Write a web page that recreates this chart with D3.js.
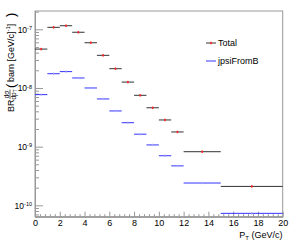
<!DOCTYPE html>
<html>
<head>
<meta charset="utf-8">
<script src="https://cdn.jsdelivr.net/npm/d3@7"></script>
<style>
  body { margin: 0; background: #fff; }
  svg { display: block; font-family: "Liberation Sans", Arial, Helvetica, sans-serif; }
</style>
</head>
<body>
<svg id="chart"></svg>
<script>
// bins in pT (GeV/c)
var binLo = [0, 1, 2, 3, 4, 5, 6, 7, 8, 9, 10, 11, 12, 15];
var binHi = [1, 2, 3, 4, 5, 6, 7, 8, 9, 10, 11, 12, 15, 20];
// BR dsigma/dpT (barn [GeV/c]^-1)
var totalVals = [4.6e-8, 1.08e-7, 1.15e-7, 8.9e-8, 5.9e-8, 3.6e-8, 2.13e-8, 1.26e-8, 7.5e-9, 4.6e-9, 2.85e-9, 1.78e-9, 8.2e-10, 2.1e-10];
var fromBVals = [7.7e-9, 1.75e-8, 1.9e-8, 1.48e-8, 1.0e-8, 6.5e-9, 4.06e-9, 2.56e-9, 1.63e-9, 1.07e-9, 7.0e-10, 4.7e-10, 2.4e-10, 7.3e-11];
var xTicks = [0, 2, 4, 6, 8, 10, 12, 14, 16, 18, 20];
var yTicks = [1e-10, 1e-9, 1e-8, 1e-7];
var seriesNames = ["Total", "jpsiFromB"];

var svgWidth = 293, svgHeight = 245;
var frame = { left: 35, right: 282.7, top: 11, bottom: 216.7 };

var svg = d3.select("#chart")
  .attr("width", svgWidth)
  .attr("height", svgHeight);

var xScale = d3.scaleLinear().domain([0, 20]).range([frame.left, frame.right]);
var yScale = d3.scaleLog().domain([6.4e-11, 2.05e-7]).range([frame.bottom, frame.top]);

// frame box
svg.append("rect")
  .attr("x", frame.left)
  .attr("y", frame.top)
  .attr("width", frame.right - frame.left)
  .attr("height", frame.bottom - frame.top)
  .attr("fill", "none")
  .attr("stroke", "#999")
  .attr("stroke-width", 1);

// minor ticks
var yMinor = [];
for (var e = -11; e <= -7; e++) {
  for (var k = 2; k <= 9; k++) {
    var v = k * Math.pow(10, e);
    if (v > 6.4e-11 && v < 2.05e-7) yMinor.push(v);
  }
}
var xMinor = d3.range(0, 20.01, 0.4).filter(function (d) { return Math.abs(d / 2 - Math.round(d / 2)) > 0.01; });

svg.append("g")
  .attr("class", "axis")
  .attr("transform", "translate(" + frame.left + ",0)")
  .call(d3.axisLeft(yScale).tickValues(yMinor).tickSizeInner(-4).tickSizeOuter(0).tickFormat(""));

svg.append("g")
  .attr("class", "axis")
  .attr("transform", "translate(0," + frame.bottom + ")")
  .call(d3.axisBottom(xScale).tickValues(xMinor).tickSizeInner(-2.5).tickSizeOuter(0).tickFormat(""));

// major y axis
var yAxis = svg.append("g")
  .attr("class", "axis")
  .attr("transform", "translate(" + frame.left + ",0)")
  .call(d3.axisLeft(yScale).tickValues(yTicks).tickSizeInner(-8).tickSizeOuter(0).tickPadding(3));

yAxis.selectAll("text").each(function (d) {
  var t = d3.select(this);
  var ex = Math.round(Math.log10(d));
  t.text(null);
  t.append("tspan").text("10");
  t.append("tspan").attr("dy", "-0.45em").style("font-size", "5.5px").text(ex);
});

// major x axis
svg.append("g")
  .attr("class", "axis")
  .attr("transform", "translate(0," + frame.bottom + ")")
  .call(d3.axisBottom(xScale).tickValues(xTicks).tickSizeInner(-5).tickSizeOuter(0).tickPadding(3).tickFormat(d3.format("d")));

svg.selectAll(".axis path").attr("stroke", "#999");
svg.selectAll(".axis line").attr("stroke", "#999");
svg.selectAll(".axis text").attr("fill", "#000").style("font-size", "9px");
yAxis.selectAll("text").style("font-size", "8.5px");

// data
function drawSeries(vals, lineColor, markColor, markW, markH) {
  var g = svg.append("g");
  g.selectAll("line.bin")
    .data(vals)
    .enter()
    .append("line")
    .attr("class", "bin")
    .attr("x1", function (d, i) { return xScale(binLo[i]); })
    .attr("x2", function (d, i) { return xScale(binHi[i]); })
    .attr("y1", function (d) { return yScale(d); })
    .attr("y2", function (d) { return yScale(d); })
    .attr("stroke", lineColor)
    .attr("stroke-width", 1);
  g.selectAll("rect.mark")
    .data(vals)
    .enter()
    .append("rect")
    .attr("class", "mark")
    .attr("x", function (d, i) { return xScale((binLo[i] + binHi[i]) / 2) - markW / 2; })
    .attr("y", function (d) { return yScale(d) - markH / 2; })
    .attr("width", markW)
    .attr("height", markH)
    .attr("fill", markColor);
}
drawSeries(totalVals, "#333", "#f22", 1.6, 2.4);
drawSeries(fromBVals, "#3333ff", "#aaaaff", 1, 2.4);

// legend
var legend = svg.append("g");
var legY = [43, 61];
var legLine = ["#333", "#3333ff"];
var legMark = ["#f22", "#aaaaff"];
seriesNames.forEach(function (name, i) {
  legend.append("line")
    .attr("x1", 206).attr("x2", 216)
    .attr("y1", legY[i]).attr("y2", legY[i])
    .attr("stroke", legLine[i]).attr("stroke-width", 1);
  legend.append("rect")
    .attr("x", 210.2).attr("y", legY[i] - 1.2)
    .attr("width", i === 0 ? 1.6 : 1).attr("height", 2.4)
    .attr("fill", legMark[i]);
  legend.append("text")
    .attr("x", 218).attr("y", legY[i])
    .attr("dy", "0.35em")
    .style("font-size", "9px")
    .text(name);
});

// x title
var xt = svg.append("text")
  .attr("x", 282.5).attr("y", 237.5)
  .attr("text-anchor", "end")
  .style("font-size", "9px");
xt.append("tspan").text("P");
xt.append("tspan").attr("dy", "2").style("font-size", "6px").text("T");
xt.append("tspan").attr("dy", "-2").text(" (GeV/c)");

// y title
var yt = svg.append("g").attr("transform", "translate(13.5,112) rotate(-90)");
yt.append("text").attr("x", 0).attr("y", 0).style("font-size", "9px").text("BR");
yt.append("text").attr("x", 17.5).attr("y", -4.5).attr("text-anchor", "middle").style("font-size", "6.5px").text("dσ");
yt.append("line").attr("x1", 13).attr("x2", 22.5).attr("y1", -3.5).attr("y2", -3.5).attr("stroke", "#000").attr("stroke-width", 0.6);
var den = yt.append("text").attr("x", 17.5).attr("y", 2).attr("text-anchor", "middle").style("font-size", "6.5px");
den.append("tspan").text("dp");
den.append("tspan").attr("dy", "1.5").style("font-size", "4.5px").text("T");
yt.append("text").attr("x", 24).attr("y", 1).style("font-size", "13px").style("font-weight", "300").text("(");
var main = yt.append("text").attr("x", 30).attr("y", 0).style("font-size", "9px");
main.append("tspan").text("barn [GeV/c]");
main.append("tspan").attr("dy", "-3.5").style("font-size", "6px").text("-1");
main.append("tspan").attr("dy", "3.5").text("]");
yt.append("text").attr("x", 95).attr("y", 1).style("font-size", "13px").style("font-weight", "300").text(")");
</script>
</body>
</html>
